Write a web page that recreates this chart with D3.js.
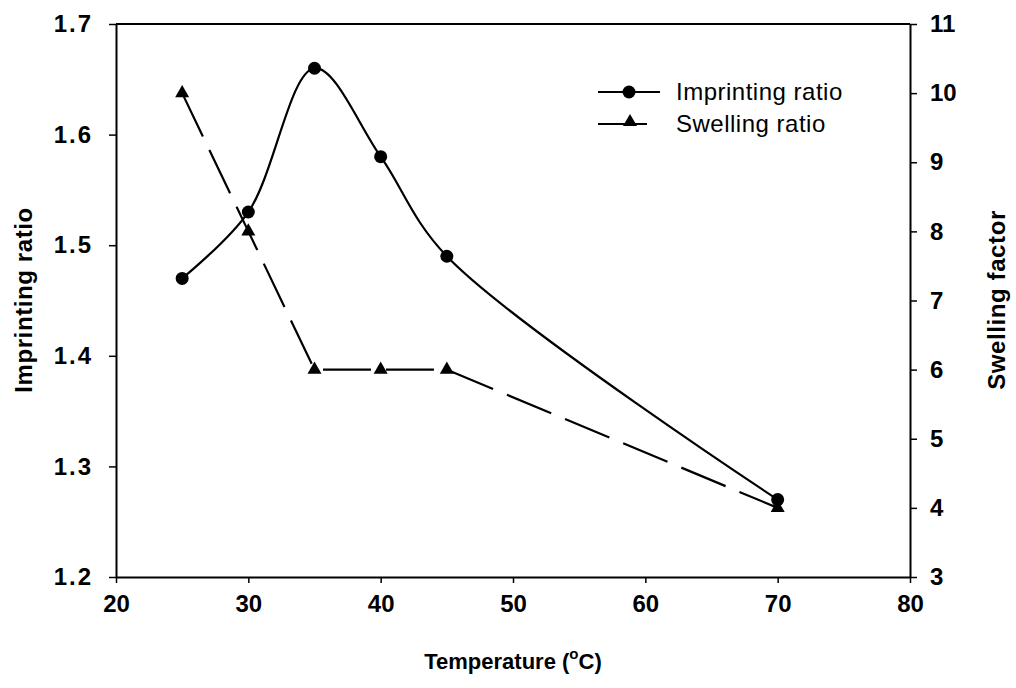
<!DOCTYPE html>
<html><head><meta charset="utf-8">
<script src="https://cdn.jsdelivr.net/npm/d3@7"></script>
<style>body{margin:0;background:#fff}svg{font-family:"Liberation Sans",Arial,sans-serif}</style>
</head><body><svg id="c" width="1016" height="688"></svg>
<script>
const temperature = [25, 30, 35, 40, 45, 70];
const imprintingRatio = [1.47, 1.53, 1.66, 1.58, 1.49, 1.27];
const swellingFactor = [10, 8, 6, 6, 6, 4];
const xTicks = [20, 30, 40, 50, 60, 70, 80];
const yLeftTicks = [1.2, 1.3, 1.4, 1.5, 1.6, 1.7];
const yRightTicks = [3, 4, 5, 6, 7, 8, 9, 10, 11];

const svg = d3.select("#c");
const L = 116, R = 910, T = 24, B = 577;
const x = d3.scaleLinear().domain([20, 80]).range([L, R]);
const yL = d3.scaleLinear().domain([1.2, 1.7]).range([B, T]);
const yR = d3.scaleLinear().domain([3, 11]).range([B, T]);

function styleAxis(g){
  g.selectAll("path").attr("stroke","#000").attr("stroke-width",2);
  g.selectAll("line").attr("stroke","#000").attr("stroke-width",1.5);
  g.selectAll("text").attr("font-size",24).attr("font-weight","bold").attr("fill","#000")
   .attr("font-family","'Liberation Sans',Arial,sans-serif");
}
svg.append("line").attr("x1",L).attr("x2",R).attr("y1",T).attr("y2",T).attr("stroke","#000").attr("stroke-width",2);

const gx = svg.append("g").attr("transform",`translate(0,${B})`)
  .call(d3.axisBottom(x).tickValues(xTicks).tickSize(6).tickSizeOuter(0).tickPadding(12));
styleAxis(gx);
const gl = svg.append("g").attr("transform",`translate(${L},0)`)
  .call(d3.axisLeft(yL).tickValues(yLeftTicks).tickFormat(d3.format(".1f")).tickSize(7).tickSizeOuter(0).tickPadding(16));
styleAxis(gl);
gl.selectAll("text").attr("letter-spacing",2);
const gr = svg.append("g").attr("transform",`translate(${R},0)`)
  .call(d3.axisRight(yR).tickValues(yRightTicks).tickSize(7).tickSizeOuter(0).tickPadding(13));
styleAxis(gr);

svg.append("text").attr("x",513).attr("y",669).attr("text-anchor","middle")
  .attr("font-size",22).attr("font-weight","bold")
  .html('Temperature (<tspan dy="-10" font-size="15">o</tspan><tspan dy="10">C)</tspan>');
svg.append("text").attr("transform","translate(32,300) rotate(-90)").attr("text-anchor","middle")
  .attr("font-size",24).attr("font-weight","bold").attr("letter-spacing",0.6).text("Imprinting ratio");
svg.append("text").attr("transform","translate(1005,300) rotate(-90)").attr("text-anchor","middle")
  .attr("font-size",24).attr("font-weight","bold").attr("letter-spacing",0.6).text("Swelling factor");

const imp = temperature.map((t,i)=>({t, v: imprintingRatio[i]}));
const sw = temperature.map((t,i)=>({t, v: swellingFactor[i]}));

svg.append("path").datum(imp)
  .attr("d", d3.line().x(d=>x(d.t)).y(d=>yL(d.v)).curve(d3.curveCatmullRom.alpha(0.5)))
  .attr("fill","none").attr("stroke","#000").attr("stroke-width",2.2);
svg.append("path").datum(sw)
  .attr("d", d3.line().x(d=>x(d.t)).y(d=>yR(d.v)))
  .attr("fill","none").attr("stroke","#000").attr("stroke-width",2.2).attr("stroke-dasharray","48,15");

svg.selectAll("circle.imp").data(imp).enter().append("circle")
  .attr("cx",d=>x(d.t)).attr("cy",d=>yL(d.v)).attr("r",6.5).attr("fill","#000");
const tri = d3.symbol().type(d3.symbolTriangle).size(85);
svg.selectAll("path.sw").data(sw).enter().append("path")
  .attr("d",tri).attr("transform",d=>`translate(${x(d.t)},${yR(d.v)})`).attr("fill","#000");

const lg = svg.append("g");
lg.append("line").attr("x1",598).attr("x2",660).attr("y1",92).attr("y2",92).attr("stroke","#000").attr("stroke-width",2.2);
lg.append("circle").attr("cx",629).attr("cy",92).attr("r",6.5).attr("fill","#000");
lg.append("text").attr("x",676).attr("y",100).attr("font-size",24).attr("letter-spacing",0.5).text("Imprinting ratio");
lg.append("line").attr("x1",598).attr("x2",647).attr("y1",124).attr("y2",124).attr("stroke","#000").attr("stroke-width",2.2);
lg.append("path").attr("d",tri).attr("transform","translate(630,122)").attr("fill","#000");
lg.append("text").attr("x",676).attr("y",132).attr("font-size",24).attr("letter-spacing",0.5).text("Swelling ratio");
</script></body></html>
